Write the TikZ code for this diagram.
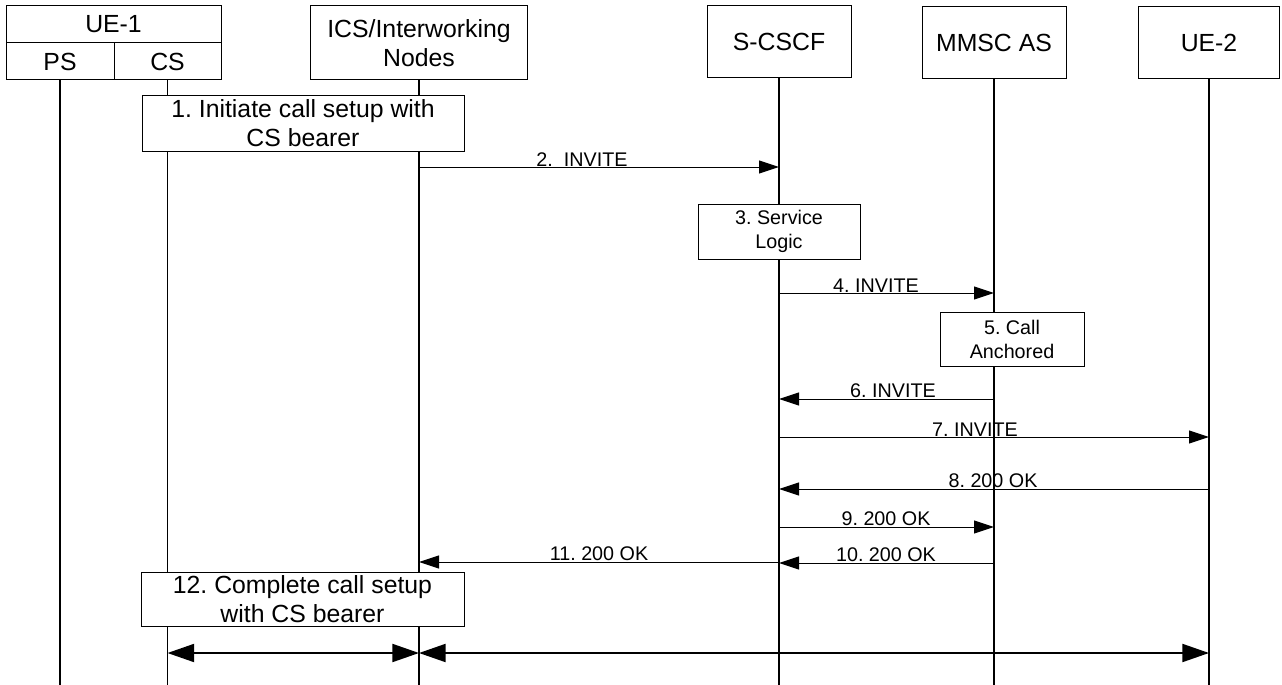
\documentclass[tikz,border=0pt]{standalone}
\usepackage{fontspec}
\setmainfont{Liberation Sans}
\usetikzlibrary{arrows.meta}
\frenchspacing

\begin{document}
\begin{tikzpicture}[x=0.75pt, y=-0.75pt,
    big/.style={font=\fontsize{18.6}{21.75}\selectfont},
    small/.style={font=\fontsize{14.8}{18}\selectfont},
    hdr/.style={draw, fill=white, big, align=center, inner sep=0pt, line width=0.75pt},
    act/.style={draw, fill=white, align=center, inner sep=0pt, line width=0.75pt},
    life/.style={line width=1pt},
    msg/.style={-{Triangle[length=15pt,width=9.75pt]}, line width=0.75pt},
    bearer/.style={{Triangle[length=20pt,width=13.5pt]}-{Triangle[length=20pt,width=13.5pt]}, line width=1.5pt},
    lbl/.style={small, anchor=south, inner sep=0.5pt}]

    \useasboundingbox (0,0) rectangle (1282,685);

    % Entities
    \node[hdr, minimum width=161.25pt, minimum height=27.75pt] (ue1) at (113.5,24.5) {UE-1};
    \node[hdr, minimum width=81pt, minimum height=27.75pt] (ps) at (60,61.5) {PS};
    \node[hdr, minimum width=80.25pt, minimum height=27.75pt] (cs) at (167.5,61.5) {CS};
    \node[hdr, minimum width=162.75pt, minimum height=55.5pt] (ics) at (419,43) {ICS/Interworking\\Nodes};
    \node[hdr, minimum width=108pt, minimum height=54pt] (scscf) at (779,42) {S-CSCF};
    \node[hdr, minimum width=108pt, minimum height=54pt] (mmsc) at (994,43) {MMSC AS};
    \node[hdr, minimum width=105.75pt, minimum height=54pt] (ue2) at (1209,43) {UE-2};

    % Lifelines
    \draw[life] (ps.south) -- (ps.south |- 0,685);
    \draw[life] (cs.south) -- (cs.south |- 0,685);
    \draw[life] (ics.south) -- (ics.south |- 0,685);
    \draw[life] (scscf.south) -- (scscf.south |- 0,685);
    \draw[life] (mmsc.south) -- (mmsc.south |- 0,685);
    \draw[life] (ue2.south) -- (ue2.south |- 0,685);

    % Step 1
    \node[act, big, minimum width=241.5pt, minimum height=41.25pt] (s1) at (303,123.5)
        {1. Initiate call setup with\\CS bearer};

    % INVITE towards S-CSCF
    \draw[msg] (ics |- 0,167) -- (scscf |- 0,167);
    \node[lbl] (m2) at (582,167) {2.~~INVITE};

    % Step 3
    \node[act, small, minimum width=121.5pt, minimum height=41.25pt] (s3) at (779,231.5)
        {3. Service\\Logic};

    \draw[msg] (scscf |- 0,293) -- (mmsc |- 0,293);
    \node[lbl] (m4) at (876,293) {4. INVITE};

    % Step 5
    \node[act, small, minimum width=108pt, minimum height=40.5pt] (s5) at (1012,339)
        {5. Call\\Anchored};

    \draw[msg] (mmsc |- 0,399) -- (scscf |- 0,399);
    \node[lbl] (m6) at (893,399) {6. INVITE};

    \draw[msg] (scscf |- 0,437) -- (ue2 |- 0,437);
    \node[lbl] (m7) at (975,437) {7. INVITE};

    % 200 OK responses
    \draw[msg] (ue2 |- 0,489) -- (scscf |- 0,489);
    \node[lbl] (m8) at (993,489) {8. 200 OK};

    \draw[msg] (scscf |- 0,527) -- (mmsc |- 0,527);
    \node[lbl] (m9) at (886,527) {9. 200 OK};

    \draw[msg] (mmsc |- 0,563) -- (scscf |- 0,563);
    \node[lbl] (m10) at (886,563) {10. 200 OK};

    \draw[msg] (scscf |- 0,562) -- (ics |- 0,562);
    \node[lbl] (m11) at (599,562) {11. 200 OK};

    % Step 12
    \node[act, big, minimum width=242.25pt, minimum height=40.5pt] (s12) at (302.5,599)
        {12. Complete call setup\\with CS bearer};

    % Bearer
    \draw[bearer] (cs |- 0,653) -- (ics |- 0,653);
    \draw[bearer] (ics |- 0,653) -- (ue2 |- 0,653);

\end{tikzpicture}
\end{document}
